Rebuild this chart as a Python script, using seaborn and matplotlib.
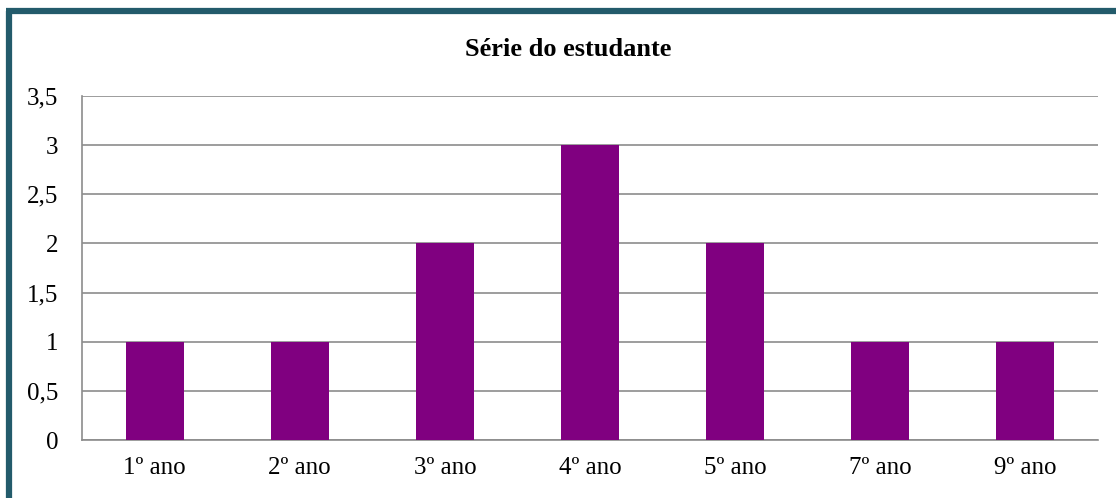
import matplotlib
matplotlib.use("Agg")
import matplotlib.pyplot as plt
from matplotlib.lines import Line2D
import pandas as pd
import seaborn as sns

# Chart data
series = ["1º ano", "2º ano", "3º ano", "4º ano", "5º ano", "7º ano", "9º ano"]
students = [1, 1, 2, 3, 2, 1, 1]
y_ticks = [0, 0.5, 1, 1.5, 2, 2.5, 3, 3.5]
y_tick_labels = ["0", "0,5", "1", "1,5", "2", "2,5", "3", "3,5"]

df = pd.DataFrame({"serie": series, "n": students})

sns.set_style("white")
plt.rcParams["font.family"] = ["Liberation Serif", "DejaVu Serif"]
plt.rcParams["text.color"] = "black"

fig = plt.figure(figsize=(11.16, 4.98), dpi=100)
ax = fig.add_axes([82 / 1116, 1 - 440 / 498, (1098 - 82) / 1116, (440 - 96) / 498])

sns.barplot(data=df, x="serie", y="n", color="#800080", saturation=1,
            width=0.4, linewidth=0, ax=ax, zorder=3)

ax.set_ylim(0, 3.5)
ax.set_xlim(-0.5, len(series) - 0.5)
ax.set_yticks(y_ticks)
ax.set_yticklabels(y_tick_labels)
ax.set_xlabel("")
ax.set_ylabel("")
ax.yaxis.grid(True, color="#8c8c8c", linewidth=1.2, zorder=0)
ax.set_axisbelow(True)
ax.tick_params(axis="y", length=0, pad=17, labelsize=18, labelcolor="black")
ax.tick_params(axis="x", length=0, pad=12, labelsize=18, labelcolor="black")

for side in ["top", "right"]:
    ax.spines[side].set_visible(False)
for side in ["left", "bottom"]:
    ax.spines[side].set_color("#8c8c8c")
    ax.spines[side].set_linewidth(1.2)

fig.text(568 / 1116, 1 - 50 / 498, "Série do estudante", ha="center", va="center",
         fontsize=19, fontweight="bold", color="black")

# Frame around the chart (top and left edges visible)
border = "#235b6b"
fig.add_artist(Line2D([9 / 1116, 9 / 1116], [0, 1 - 11 / 498], color=border,
                      linewidth=4.5, solid_capstyle="butt", transform=fig.transFigure))
fig.add_artist(Line2D([6 / 1116, 1], [1 - 11 / 498, 1 - 11 / 498], color=border,
                      linewidth=4.5, solid_capstyle="butt", transform=fig.transFigure))

fig.savefig("out.png", dpi=100)
